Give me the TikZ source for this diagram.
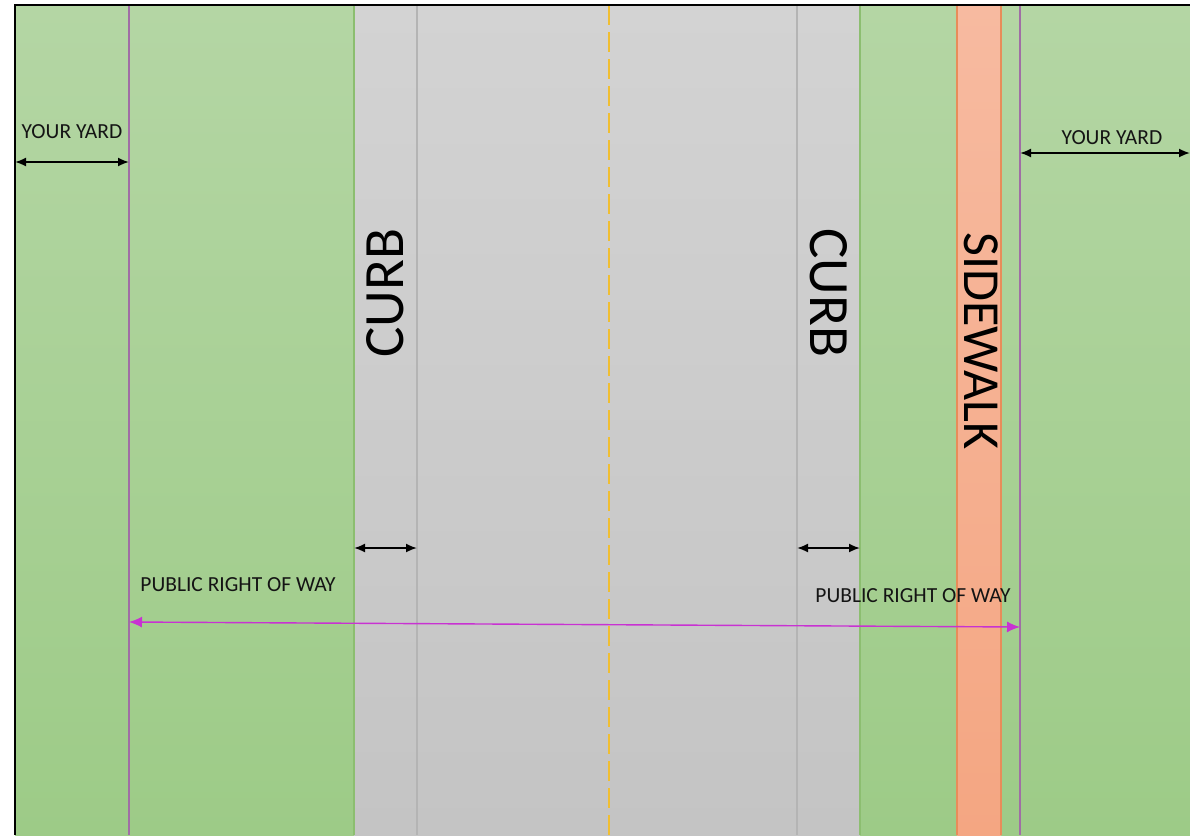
\documentclass[tikz,border=0pt]{standalone}
\usepackage{fontspec}
\setmainfont{Carlito}
\usetikzlibrary{arrows.meta}
\definecolor{grasstop}{RGB}{180,214,164}
\definecolor{grassbot}{RGB}{157,203,135}
\definecolor{grassedge}{RGB}{140,190,112}
\definecolor{roadtop}{RGB}{211,211,211}
\definecolor{roadbot}{RGB}{196,196,196}
\definecolor{curbline}{RGB}{180,180,180}
\definecolor{walktop}{RGB}{247,186,160}
\definecolor{walkbot}{RGB}{244,166,130}
\definecolor{walkedge}{RGB}{232,140,90}
\definecolor{lotline}{RGB}{160,110,165}
\definecolor{rowline}{RGB}{200,50,210}
\definecolor{centerline}{RGB}{240,190,50}
\definecolor{ink}{RGB}{20,20,20}

\begin{document}
\begin{tikzpicture}[x=1pt,y=-1pt,
  grass/.style={top color=grasstop, bottom color=grassbot, draw=none},
  road/.style={top color=roadtop, bottom color=roadbot, draw=none},
  walk/.style={top color=walktop, bottom color=walkbot, draw=none},
  small/.style={text=ink, font=\fontsize{21.5}{24}\selectfont, inner sep=0pt},
  big/.style={text=black, font=\fontsize{57}{60}\selectfont, inner sep=0pt},
  dim/.style={{Latex[length=11pt,width=9pt]}-{Latex[length=11pt,width=9pt]}, line width=1.8pt, black},
  row/.style={{Latex[length=13pt,width=11pt]}-{Latex[length=13pt,width=11pt]}, line width=1.4pt, rowline},
  lot/.style={lotline, line width=2pt}
]
\useasboundingbox[fill=white] (0,0) rectangle (1190,835);

% ground
\path[grass] (15,5) rectangle (354,835);
\path[road]  (354,5) rectangle (860,835);
\path[grass] (860,5) rectangle (1190,835);
\path[walk]  (957,5) rectangle (1001,835);
\draw[walkedge, line width=1.5pt] (957,5) -- (957,835) (1001,5) -- (1001,835);
\draw[grassedge, line width=1.5pt] (354,5) -- (354,835) (860,5) -- (860,835);
\draw[curbline, line width=2pt] (417,5) -- (417,835) (797,5) -- (797,835);
\draw[centerline, line width=2.5pt, dash pattern=on 20pt off 7pt] (609,5) -- (609,835);

% property lines
\draw[lot] (129,5) -- (129,835);
\draw[lot] (1020,5) -- (1020,835);

% frame
\draw[black, line width=2pt] (15,835) -- (15,5) -- (1190,5);

% labels
\node[small] (yardL) at (72,132) {YOUR YARD};
\node[small] (yardR) at (1112,138) {YOUR YARD};
\node[big, rotate=90]  (curbL) at (385,293) {CURB};
\node[big, rotate=-90] (curbR) at (829,293) {CURB};
\node[big, rotate=-90, font=\fontsize{52}{56}\selectfont] (walkT) at (981,341) {SIDEWALK};
\node[small] (rowL) at (238,585) {PUBLIC RIGHT OF WAY};
\node[small] (rowR) at (913,596) {PUBLIC RIGHT OF WAY};

% dimension ends
\coordinate (yl1) at (15,162);   \coordinate (yl2) at (129,162);
\coordinate (yr1) at (1020,153); \coordinate (yr2) at (1190,153);
\coordinate (cl1) at (354,548);  \coordinate (cl2) at (417,548);
\coordinate (cr1) at (797,548);  \coordinate (cr2) at (860,548);
\coordinate (rw1) at (129,622);  \coordinate (rw2) at (1020,627);

\draw[dim] (yl1) -- (yl2);
\draw[dim] (yr1) -- (yr2);
\draw[dim] (cl1) -- (cl2);
\draw[dim] (cr1) -- (cr2);
\draw[row] (rw1) -- (rw2);
\end{tikzpicture}
\end{document}
